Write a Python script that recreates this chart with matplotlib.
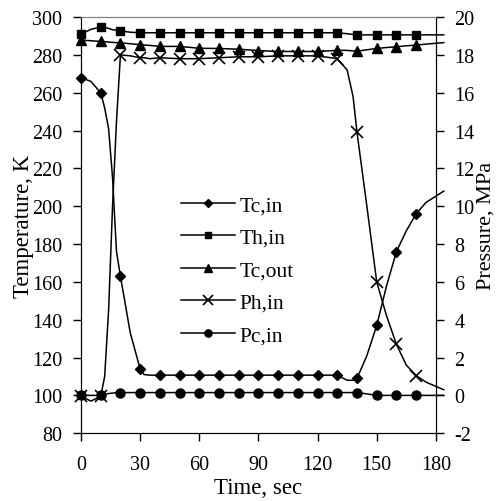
import matplotlib.pyplot as plt

plt.rcParams['font.family'] = ['Liberation Serif', 'DejaVu Serif']
plt.rcParams['axes.unicode_minus'] = False

# time points of the lines, markers every 10 s
t_line = [0, 5, 10, 12, 14, 16, 18, 20, 25, 30, 32, 35, 40, 50, 60, 70, 80, 90, 100,
          110, 120, 130, 135, 138, 140, 145, 150, 155, 160, 165, 170, 175, 184]
t_mark = list(range(0, 180, 10))

tc_in = [268, 266, 260, 252, 241, 215, 176, 163, 133, 114, 111, 110.7, 110.7, 110.7, 110.7,
         110.7, 110.7, 110.7, 110.7, 110.7, 110.7, 110.7, 108, 108, 109, 121, 137, 158, 176,
         187, 196, 202, 208]
th_in = [291, 293.5, 294.8, 294.5, 294, 293.3, 293, 292.7, 292, 291.7, 291.7, 291.7, 291.7,
         291.7, 291.7, 291.7, 291.7, 291.7, 291.7, 291.7, 291.7, 291.7, 291.2, 290.8, 290.6,
         290.6, 290.6, 290.6, 290.6, 290.6, 290.6, 290.6, 290.6]
tc_out = [287.8, 287.5, 287.1, 287, 286.8, 286.6, 286.5, 286.4, 285.9, 285.4, 285.2, 285,
          284.5, 284.5, 283.5, 283.4, 283, 282.3, 281.8, 281.8, 281.8, 282.4, 282.4, 282.1,
          282, 282.7, 283.4, 283.9, 284.3, 284.8, 285.2, 285.7, 286.5]
ph_in = [-0.05, -0.3, -0.05, 1, 4.5, 10, 14.5, 18, 17.95, 17.85, 17.85, 17.8, 17.85, 17.8,
         17.8, 17.85, 17.9, 17.9, 17.95, 17.95, 17.95, 17.8, 17.2, 15.8, 13.9, 10, 6, 4.2,
         2.7, 1.6, 1.05, 0.7, 0.3]
pc_in = [0.0, 0.0, 0.0, 0.05, 0.1, 0.12, 0.15, 0.15, 0.15, 0.15, 0.15, 0.15, 0.15, 0.15,
         0.15, 0.15, 0.15, 0.15, 0.15, 0.15, 0.15, 0.15, 0.15, 0.15, 0.15, 0.08, 0.0, 0.0,
         0.0, 0.0, 0.0, 0.0, 0.0]

mark_idx = [t_line.index(t) for t in t_mark]

fig = plt.figure(figsize=(4.97, 5.02), dpi=100)
ax = fig.add_axes([0.163, 0.135, 0.714, 0.829])
ax2 = ax.twinx()

lw = 1.1
kw = dict(color='black', lw=lw, markevery=mark_idx, clip_on=False)
h1, = ax.plot(t_line, tc_in, marker='D', ms=5.5, label='Tc,in', **kw)
h2, = ax.plot(t_line, th_in, marker='s', ms=6, label='Th,in', **kw)
h3, = ax.plot(t_line, tc_out, marker='^', ms=7, label='Tc,out', **kw)
h4, = ax2.plot(t_line, ph_in, marker='x', ms=9, mew=1.2, label='Ph,in', **kw)
h5, = ax2.plot(t_line, pc_in, marker='o', ms=6.5, label='Pc,in', **kw)

ax.set_xlim(0, 180)
ax.set_ylim(80, 300)
ax2.set_ylim(-2, 20)
ax.set_xticks(range(0, 181, 30))
ax.set_yticks(range(80, 301, 20))
ax2.set_yticks(range(-2, 21, 2))

for a in (ax, ax2):
    a.tick_params(direction='out', length=6, width=1, labelsize=14.5, pad=7.5)
    a.spines['top'].set_color('#808080')
ax.tick_params(axis='x', pad=10)

ax.set_xlabel('Time, sec', fontsize=16.5, labelpad=2)
ax.set_ylabel('Temperature, K', fontsize=16.5, labelpad=-1.5)
ax2.set_ylabel('Pressure, MPa', fontsize=16, labelpad=1)

ax2.legend(handles=[h1, h2, h3, h4, h5], loc='upper left', bbox_to_anchor=(0.282, 0.572),
           frameon=False, fontsize=15.5, handlelength=2.5, handletextpad=0.23,
           labelspacing=0.58, markerscale=0.8, borderpad=0, borderaxespad=0)

fig.savefig('out.png', dpi=100)
